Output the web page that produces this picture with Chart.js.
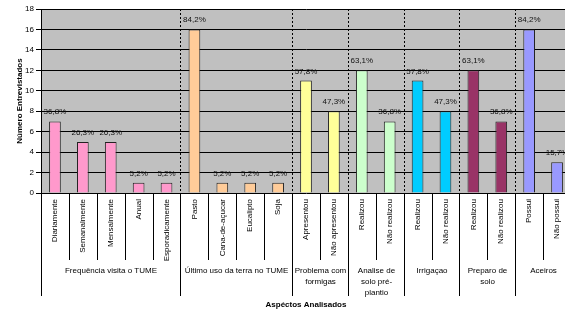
<!DOCTYPE html>
<html>
<head>
<meta charset="utf-8">
<script src="https://cdn.jsdelivr.net/npm/chart.js@4/dist/chart.umd.min.js"></script>
<style>
    html, body { margin: 0; padding: 0; background: #fff; overflow: hidden; }
    #wrap { width: 575px; height: 311px; position: relative; }
</style>
</head>
<body>
<div id="wrap"><canvas id="grafico"></canvas></div>
<script>
// Categorias (eixo X)
const categorias = [
    'Diariamente', 'Semanalmente', 'Mensalmente', 'Anual', 'Esporadicamente',
    'Pasto', 'Cana-de-açucar', 'Eucalipto', 'Soja',
    'Apresentou', 'Não apresentou',
    'Realizou', 'Não realizou',
    'Realizou', 'Não realizou',
    'Realizou', 'Não realizou',
    'Possui', 'Não possui'
];

// Número de entrevistados
const valores = [7, 5, 5, 1, 1, 16, 1, 1, 1, 11, 8, 12, 7, 11, 8, 12, 7, 16, 3];

// Rótulos percentuais
const percentuais = [
    '36,8%', '26,3%', '26,3%', '5,2%', '5,2%',
    '84,2%', '5,2%', '5,2%', '5,2%',
    '57,8%', '47,3%',
    '63,1%', '36,8%',
    '57,8%', '47,3%',
    '63,1%', '36,8%',
    '84,2%', '15,7%'
];

// Grupos (aspectos)
const grupos = [
    ['Frequência visita o TUME'],
    ['Último uso da terra no TUME'],
    ['Problema com', 'formigas'],
    ['Analise de', 'solo pré-', 'plantio'],
    ['Irrigaçao'],
    ['Preparo de', 'solo'],
    ['Aceiros']
];
const tamanhoGrupos = [5, 4, 2, 2, 2, 2, 2];
const coresGrupos = ['#FF99CC', '#FFCC99', '#FFFF99', '#CCFFCC', '#00CCFF', '#993366', '#9999FF'];

// Eixo Y
const yMin = 0, yMax = 18, yPasso = 2;

// Cores por barra
const coresBarras = [];
tamanhoGrupos.forEach((n, g) => {
    for (let i = 0; i < n; i++) coresBarras.push(coresGrupos[g]);
});

const FONTE = '"Liberation Sans", Arial, sans-serif';

/**
 * Plugin: fundo cinza, separadores, rótulos de grupo e títulos
 */
const pluginExcel = {
    id: 'pluginExcel',
    beforeDraw(chart) {
        const { ctx, chartArea: a } = chart;
        ctx.save();
        ctx.fillStyle = '#C0C0C0';
        ctx.fillRect(a.left, a.top, a.right - a.left, a.bottom - a.top);
        ctx.restore();
    },
    afterDatasetsDraw(chart) {
        const { ctx } = chart;
        const meta = chart.getDatasetMeta(0);
        ctx.save();
        ctx.font = '8px ' + FONTE;
        ctx.fillStyle = '#111';
        ctx.textAlign = 'center';
        ctx.textBaseline = 'alphabetic';
        meta.data.forEach((bar, i) => {
            ctx.fillText(percentuais[i], bar.x, bar.y - 7);
        });
        ctx.restore();
    },
    afterDraw(chart) {
        const { ctx, chartArea: a } = chart;
        const x = chart.scales.x;
        const meia = (x.getPixelForValue(1) - x.getPixelForValue(0)) / 2;
        const borda = k => Math.round(x.getPixelForValue(k) - meia) + 0.5;

        // limites entre grupos
        const limites = [0];
        tamanhoGrupos.forEach(n => limites.push(limites[limites.length - 1] + n));

        ctx.save();
        ctx.strokeStyle = '#000';
        ctx.lineWidth = 1;

        // linhas tracejadas dentro da área do gráfico
        ctx.setLineDash([2, 2]);
        limites.slice(1, -1).forEach(k => {
            ctx.beginPath();
            ctx.moveTo(borda(k), a.top);
            ctx.lineTo(borda(k), a.bottom);
            ctx.stroke();
        });
        ctx.setLineDash([]);

        // separadores abaixo do eixo
        for (let k = 0; k <= categorias.length; k++) {
            const ehGrupo = limites.includes(k);
            ctx.beginPath();
            ctx.moveTo(borda(k), a.bottom);
            ctx.lineTo(borda(k), ehGrupo ? a.bottom + 103 : a.bottom + 67);
            ctx.stroke();
        }

        // rótulos de grupo
        ctx.font = '8px ' + FONTE;
        ctx.fillStyle = '#000';
        ctx.textAlign = 'center';
        ctx.textBaseline = 'middle';
        grupos.forEach((linhas, g) => {
            const cx = (borda(limites[g]) + borda(limites[g + 1])) / 2;
            linhas.forEach((t, j) => {
                ctx.fillText(t, cx, a.bottom + 78 + j * 11);
            });
        });

        // título do eixo X
        ctx.font = 'bold 8px ' + FONTE;
        ctx.fillText('Aspéctos Analisados', (a.left + a.right) / 2, 305);

        // título do eixo Y
        ctx.translate(20, (a.top + a.bottom) / 2);
        ctx.rotate(-Math.PI / 2);
        ctx.fillText('Número Entrevistados', 0, 0);
        ctx.restore();
    }
};

new Chart(document.getElementById('grafico'), {
    type: 'bar',
    data: {
        labels: categorias,
        datasets: [{
            data: valores,
            backgroundColor: coresBarras,
            borderColor: '#222',
            borderWidth: 1,
            categoryPercentage: 1,
            barPercentage: 0.42
        }]
    },
    options: {
        responsive: true,
        maintainAspectRatio: false,
        devicePixelRatio: 1,
        animation: false,
        layout: { padding: { top: 9, right: 4, bottom: 0, left: 0 } },
        plugins: {
            legend: { display: false },
            tooltip: { enabled: false }
        },
        scales: {
            x: {
                grid: { display: false, drawTicks: false },
                border: { display: false },
                ticks: {
                    autoSkip: false,
                    maxRotation: 90,
                    minRotation: 90,
                    padding: 6,
                    color: '#000',
                    font: { family: FONTE, size: 8 }
                },
                afterFit(scale) { scale.height = 118; }
            },
            y: {
                min: yMin,
                max: yMax,
                grid: { color: '#000', lineWidth: 1, tickLength: 5 },
                border: { display: true, color: '#000', width: 1 },
                ticks: {
                    stepSize: yPasso,
                    padding: 2,
                    color: '#000',
                    font: { family: FONTE, size: 8 }
                },
                afterFit(scale) { scale.width = 41; }
            }
        }
    },
    plugins: [pluginExcel]
});
</script>
</body>
</html>
